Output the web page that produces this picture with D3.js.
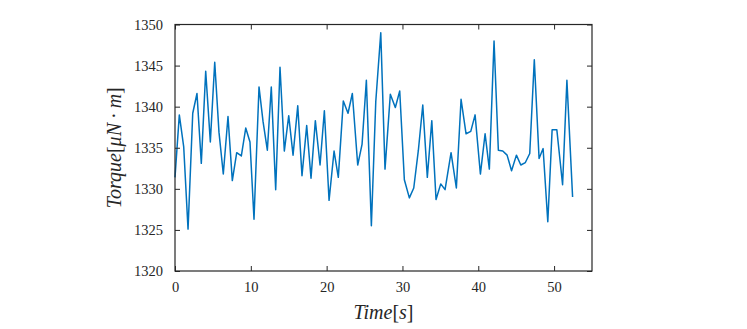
<!DOCTYPE html>
<html>
<head>
<meta charset="utf-8">
<script src="https://cdn.jsdelivr.net/npm/d3@7"></script>
<style>
  body { margin: 0; background: #fff; }
  svg, svg text { font-family: "Liberation Serif", "Times New Roman", serif !important; }
</style>
</head>
<body>
<div class="chart"></div>
<script>
// sample times [s] and torque [uN*m]
const times = [0.00, 0.57, 1.15, 1.72, 2.34, 2.90, 3.47, 4.05, 4.66, 5.24,
  5.80, 6.37, 6.99, 7.56, 8.14, 8.75, 9.33, 9.89, 10.42, 11.08,
  11.61, 12.18, 12.70, 13.28, 13.85, 14.42, 15.00, 15.57, 16.19, 16.75,
  17.37, 17.94, 18.51, 19.13, 19.70, 20.32, 20.98, 21.54, 22.20, 22.82,
  23.39, 24.10, 24.67, 25.24, 25.90, 26.48, 27.14, 27.70, 28.40, 29.06,
  29.64, 30.25, 30.91, 31.49, 32.10, 32.68, 33.28, 33.87, 34.43, 35.05,
  35.62, 36.41, 37.11, 37.73, 38.39, 39.01, 39.58, 40.28, 40.90, 41.46,
  42.08, 42.65, 43.23, 43.80, 44.39, 45.03, 45.61, 46.21, 46.79, 47.39,
  48.02, 48.55, 49.17, 49.74, 50.36, 51.12, 51.69, 52.44];
const torque = [1331.4, 1339.0, 1335.1, 1325.1, 1339.2, 1341.6, 1333.1, 1344.3, 1335.7, 1345.4,
  1336.9, 1331.8, 1338.8, 1331.0, 1334.4, 1334.0, 1337.4, 1335.7, 1326.3, 1342.4,
  1338.2, 1334.7, 1342.4, 1329.9, 1344.8, 1334.6, 1338.9, 1334.1, 1340.1, 1331.6,
  1337.7, 1331.3, 1338.3, 1332.9, 1339.5, 1328.6, 1334.6, 1331.4, 1340.7, 1339.2,
  1341.6, 1332.9, 1335.4, 1343.2, 1325.5, 1340.6, 1349.0, 1332.4, 1341.5, 1339.9,
  1341.9, 1331.1, 1328.9, 1330.1, 1334.7, 1340.2, 1331.4, 1338.3, 1328.7, 1330.6,
  1329.9, 1334.4, 1330.1, 1340.9, 1336.7, 1337.0, 1339.0, 1331.8, 1336.7, 1332.4,
  1348.0, 1334.7, 1334.6, 1334.1, 1332.2, 1334.1, 1332.9, 1333.2, 1334.3, 1345.7,
  1333.7, 1334.9, 1326.0, 1337.2, 1337.2, 1330.5, 1343.2, 1329.0];

const xTicks = [0, 10, 20, 30, 40, 50];
const yTicks = [1320, 1325, 1330, 1335, 1340, 1345, 1350];

const W = 747, H = 329;
const m = {left: 175, right: 155, top: 24.5, bottom: 58};
const iw = W - m.left - m.right, ih = H - m.top - m.bottom;

let svg = d3.select('.chart').append('svg').attr('width', W).attr('height', H);
let g = svg.append('g').attr('transform', `translate(${m.left},${m.top})`);

let x = d3.scaleLinear().domain([0, 55]).range([0, iw]);
let y = d3.scaleLinear().domain([1320, 1350]).range([ih, 0]);

// data line first, box and ticks on top
let pts = times.map((t, i) => [t, torque[i]]);
g.append('path')
    .datum(pts)
    .attr('fill', 'none')
    .attr('stroke', '#0072BD')
    .attr('stroke-width', 1.5)
    .attr('stroke-linejoin', 'round')
    .attr('d', d3.line().x(d => x(d[0])).y(d => y(d[1])));

const styleAxis = (sel) => {
    sel.attr('font-size', 14.5);
    sel.select('.domain').remove();
    sel.selectAll('line').attr('stroke', '#262626').attr('stroke-width', 1);
    sel.selectAll('text').attr('fill', '#262626');
};

const fmt = d3.format('d');
g.append('g').attr('transform', `translate(0,${ih})`)
    .call(d3.axisBottom(x).tickValues(xTicks).tickFormat(fmt).tickSizeInner(-5).tickSizeOuter(0).tickPadding(11))
    .call(styleAxis);
g.append('g')
    .call(d3.axisTop(x).tickValues(xTicks).tickSizeInner(-5).tickSizeOuter(0).tickFormat(''))
    .call(styleAxis);
g.append('g')
    .call(d3.axisLeft(y).tickValues(yTicks).tickFormat(fmt).tickSizeInner(-5).tickSizeOuter(0).tickPadding(12))
    .call(styleAxis);
g.append('g').attr('transform', `translate(${iw},0)`)
    .call(d3.axisRight(y).tickValues(yTicks).tickSizeInner(-5).tickSizeOuter(0).tickFormat(''))
    .call(styleAxis);

g.append('rect')
    .attr('width', iw).attr('height', ih)
    .attr('fill', 'none').attr('stroke', '#262626').attr('stroke-width', 1.2);

// axis labels, LaTeX-like: italic symbols, upright brackets
const label = (parent, parts) => {
    let t = parent.append('text')
        .attr('text-anchor', 'middle')
        .attr('fill', '#262626')
        .style('font-size', '20px');
    parts.forEach(([s, it]) => t.append('tspan').text(s).style('font-style', it ? 'italic' : 'normal'));
    return t;
};

label(g, [['Time', true], ['[', false], ['s', true], [']', false]])
    .attr('x', iw / 2).attr('y', ih + 48);

label(g, [['Torque', true], ['[', false], ['μN', true], ['\u2009·\u2009', false], ['m', true], [']', false]])
    .attr('transform', `translate(${-54},${ih / 2}) rotate(-90)`);
</script>
</body>
</html>
